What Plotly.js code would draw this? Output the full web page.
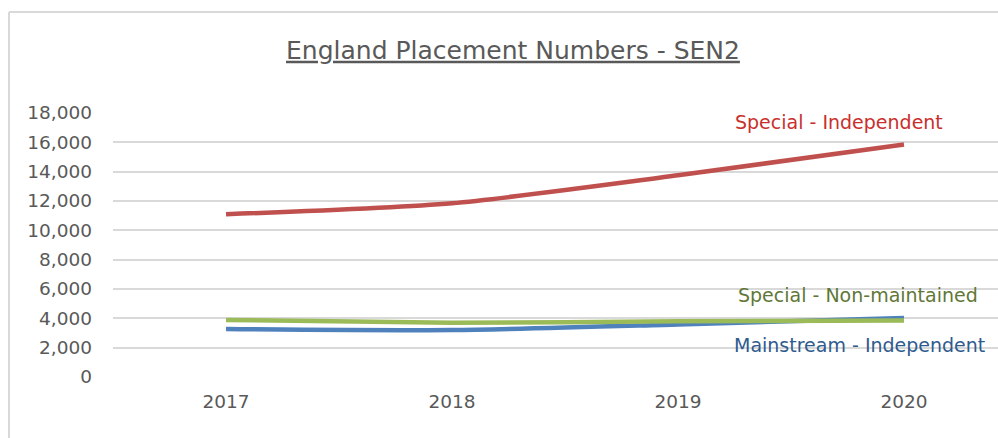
<!DOCTYPE html>
<html>
<head>
<meta charset="utf-8">
<script src="https://cdn.plot.ly/plotly-3.0.1.min.js"></script>
<style>
html, body { margin: 0; padding: 0; background: #ffffff; }
#chart { width: 998px; height: 438px; }
</style>
</head>
<body>
<div id="chart"></div>
<script>
const years = ["2017", "2018", "2019", "2020"];
const seriesNames = ["Mainstream - Independent", "Special - Non-maintained", "Special - Independent"];
const mainstreamIndependent = [3270, 3200, 3580, 4030];
const specialNonMaintained = [3890, 3700, 3800, 3850];
const specialIndependent = [11100, 11850, 13750, 15850];
const yTickVals = [0, 2000, 4000, 6000, 8000, 10000, 12000, 14000, 16000, 18000];
const yTickText = ["0", "2,000", "4,000", "6,000", "8,000", "10,000", "12,000", "14,000", "16,000", "18,000"];
const chartTitle = "England Placement Numbers - SEN2";

const lineColors = ["#4F81BD", "#9BBB59", "#C0504D"];
const labelColors = ["#2F5B8E", "#5F7737", "#C9302C"];
const values = [mainstreamIndependent, specialNonMaintained, specialIndependent];

const traces = values.map((v, i) => ({
  x: years,
  y: v,
  type: "scatter",
  mode: "lines",
  name: seriesNames[i],
  line: { color: lineColors[i], width: 4.5, shape: "spline", smoothing: 0.7 },
  hoverinfo: "skip"
}));

// label positions in paper coordinates
const labelPos = [
  { x: 0.843, y: 0.121 },
  { x: 0.842, y: 0.311 },
  { x: 0.820, y: 0.966 }
];
const annotations = seriesNames.map((n, i) => ({
  text: n,
  xref: "paper", yref: "paper",
  x: labelPos[i].x, y: labelPos[i].y,
  xanchor: "center", yanchor: "middle",
  showarrow: false,
  font: { family: "DejaVu Sans", size: 19, color: labelColors[i] }
}));

const layout = {
  width: 998,
  height: 438,
  margin: { l: 113, r: 0, t: 113, b: 61 },
  paper_bgcolor: "#ffffff",
  plot_bgcolor: "#ffffff",
  showlegend: false,
  title: {
    text: chartTitle,
    xref: "container", yref: "container",
    x: 0.514, y: 1 - 50 / 438,
    xanchor: "center", yanchor: "middle",
    font: { family: "DejaVu Sans", size: 25, color: "#595959", lineposition: "under" }
  },
  xaxis: {
    type: "category",
    range: [-0.5, 3.416],
    showgrid: false,
    zeroline: false,
    showline: false,
    ticks: "",
    ticklabelstandoff: 11,
    tickfont: { family: "DejaVu Sans", size: 18.5, color: "#595959" },
    fixedrange: true
  },
  yaxis: {
    range: [0, 18000],
    tickvals: yTickVals,
    ticktext: yTickText,
    showgrid: true,
    gridcolor: "#D9D9D9",
    gridwidth: 2,
    zeroline: false,
    showline: false,
    ticks: "",
    ticklabelstandoff: 20,
    tickfont: { family: "DejaVu Sans", size: 18.5, color: "#595959" },
    fixedrange: true
  },
  annotations: annotations,
  shapes: [
    { type: "line", xref: "paper", yref: "paper",
      x0: (9 - 113) / 885, x1: (9 - 113) / 885, y0: (377 - 12) / 264, y1: -1,
      line: { color: "#D9D9D9", width: 2 } },
    { type: "line", xref: "paper", yref: "paper",
      x0: (9 - 113) / 885, x1: 1.2, y0: (377 - 12) / 264, y1: (377 - 12) / 264,
      line: { color: "#D9D9D9", width: 2 } }
  ]
};

Plotly.newPlot("chart", traces, layout, { displayModeBar: false, staticPlot: true });
</script>
</body>
</html>
